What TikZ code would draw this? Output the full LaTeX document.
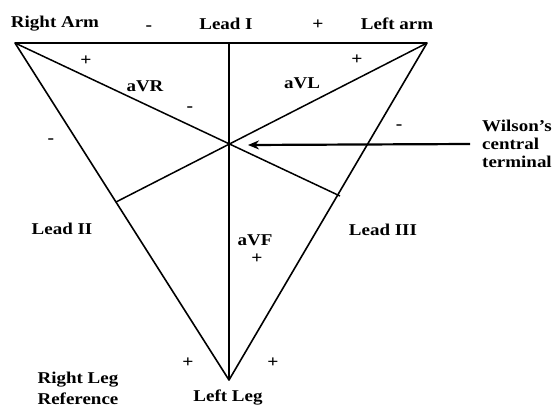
\documentclass[tikz,border=0pt]{standalone}
\usepackage{fontspec}
\setmainfont[FakeStretch=1.15]{Liberation Serif}
\usetikzlibrary{arrows.meta}
\begin{document}
\begin{tikzpicture}[x=1pt,y=-1pt,
  lbl/.style={font=\fontsize{16.5}{18}\selectfont\bfseries, inner sep=0pt},
  sgn/.style={font=\fontsize{17}{18}\selectfont\bfseries, inner sep=0pt},
  edge/.style={line width=1.6pt, line join=round},
  leadline/.style={line width=1.5pt}]
\useasboundingbox (0,0) rectangle (553,407);
% vertices and key points
\coordinate (RA) at (15,43);
\coordinate (LA) at (427,43);
\coordinate (LL) at (229,380);
\coordinate (C) at (229,145);
\coordinate (TM) at (229,43);
\coordinate (FL) at (116,202);
\coordinate (FR) at (340,196);
\coordinate (AT) at (470,144);
% triangle
\draw[edge] (RA) -- (LA) -- (LL) -- cycle;
% internal lines
\draw[leadline] (TM) -- (LL);
\draw[leadline] (RA) -- (FR);
\draw[leadline] (LA) -- (FL);
% labels
\node[lbl] (ra) at (55,24) {Right Arm};
\node[lbl] (la) at (397,24) {Left arm};
\node[lbl] (l1) at (226,24) {Lead I};
\node[sgn] (m1) at (149,28) {-};
\node[sgn] (p1) at (318,25) {+};
\node[lbl] (avr) at (145,86) {aVR};
\node[sgn] (pvr) at (86,61) {+};
\node[sgn] (mvr) at (190,109) {-};
\node[lbl] (avl) at (302,83) {aVL};
\node[sgn] (pvl) at (357,60) {+};
\node[sgn] (mvl) at (399,127) {-};
\node[sgn] (m2) at (51,141) {-};
\node[lbl] (l2) at (62,229) {Lead II};
\node[lbl] (l3) at (383,230) {Lead III};
\node[lbl] (avf) at (255,240) {aVF};
\node[sgn] (pvf) at (257,259) {+};
\node[sgn] (p2) at (188,363) {+};
\node[sgn] (p3) at (273,363) {+};
\node[lbl, align=left, font=\fontsize{16.5}{21}\selectfont\bfseries] (rl) at (78,388) {Right Leg\\Reference};
\node[lbl] (ll) at (228,398) {Left Leg};
\node[lbl, align=left, anchor=west] (w) at (482,144) {Wilson's\\central\\terminal};
% arrow
\draw[line width=2.2pt, -{Stealth[length=11pt,width=9pt]}] (AT) -- ([xshift=19pt]C);
\end{tikzpicture}
\end{document}
